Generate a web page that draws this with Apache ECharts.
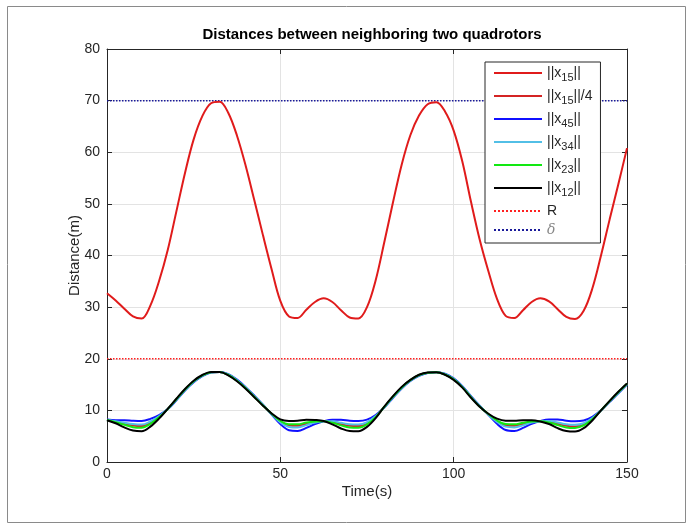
<!DOCTYPE html>
<html>
<head>
<meta charset="utf-8">
<script src="https://cdn.jsdelivr.net/npm/echarts@6/dist/echarts.min.js"></script>
<style>html,body{margin:0;padding:0;background:#fff;}#c{width:689px;height:527px;}</style>
</head>
<body>
<div id="c"></div>
<script>
// Time samples (s)
var time = [0,2.5,5,7.5,10,12.5,15,17.5,20,22.5,25,27.5,30,32.5,35,37.5,40,42.5,45,47.5,50,52.5,55,57.5,60,62.5,65,67.5,70,72.5,75,77.5,80,82.5,85,87.5,90,92.5,95,97.5,100,102.5,105,107.5,110,112.5,115,117.5,120,122.5,125,127.5,130,132.5,135,137.5,140,142.5,145,147.5,150];

// ||x15||
var x15 = [32.7,31.3,29.7,28.2,27.8,30.3,35.0,41.0,48.5,56.0,62.5,67.0,69.5,69.8,67.6,63.2,57.4,50.7,43.9,37.3,31.2,28.2,27.9,29.5,31.0,31.7,31.0,29.4,28.0,27.8,30.0,35.2,42.6,50.3,57.6,63.3,67.1,69.3,69.7,67.9,64.2,58.2,50.4,43.1,37.0,31.6,28.3,27.9,29.4,31.0,31.7,31.1,29.6,28.1,27.7,29.3,33.6,40.0,47.0,53.8,60.8];

// ||x15||/4
var x15q = [8.2,7.8,7.4,7.05,6.95,7.6,8.75,10.25,12.1,14.0,15.6,16.75,17.4,17.45,16.9,15.8,14.35,12.7,11.0,9.3,7.8,7.05,7.0,7.4,7.75,7.9,7.75,7.35,7.0,6.95,7.5,8.8,10.65,12.6,14.4,15.8,16.8,17.3,17.4,17.0,16.05,14.55,12.6,10.8,9.25,7.9,7.1,7.0,7.35,7.75,7.9,7.8,7.4,7.0,6.9,7.3,8.4,10.0,11.75,13.45,15.1];

// ||x45||
var x45 = [8.25,8.1,8.1,8.0,7.95,8.35,9.1,10.2,11.95,13.85,15.45,16.65,17.35,17.45,17.0,15.95,14.5,12.85,11.1,9.2,7.35,6.15,6.0,6.6,7.35,7.9,8.2,8.2,8.0,7.95,8.2,9.1,10.55,12.45,14.25,15.7,16.7,17.25,17.4,17.1,16.2,14.7,12.75,10.9,9.15,7.4,6.2,6.0,6.6,7.4,7.95,8.25,8.25,8.0,7.9,8.05,8.75,10.0,11.65,13.3,15.0];

// ||x34||
var x34 = [8.2,7.9,7.6,7.35,7.25,7.85,8.85,10.25,12.05,13.95,15.55,16.7,17.4,17.45,16.95,15.85,14.4,12.75,11.05,9.25,7.65,6.8,6.7,7.15,7.65,7.9,7.9,7.6,7.3,7.25,7.7,8.9,10.6,12.55,14.35,15.75,16.75,17.3,17.4,17.05,16.1,14.6,12.65,10.85,9.2,7.75,6.85,6.7,7.1,7.65,7.9,7.95,7.65,7.3,7.2,7.5,8.5,10.0,11.7,13.4,15.05];

// ||x23||
var x23 = [8.15,7.7,7.2,6.75,6.65,7.4,8.65,10.25,12.15,14.05,15.65,16.8,17.4,17.45,16.85,15.75,14.3,12.65,10.95,9.35,7.95,7.3,7.3,7.65,7.85,7.9,7.6,7.1,6.7,6.65,7.3,8.7,10.7,12.65,14.45,15.85,16.85,17.3,17.4,16.95,16.0,14.5,12.55,10.75,9.3,8.05,7.35,7.3,7.6,7.85,7.9,7.65,7.15,6.7,6.6,7.1,8.3,10.0,11.8,13.5,15.15];

// ||x12||
var x12 = [8.1,7.5,6.7,6.1,5.95,6.85,8.4,10.3,12.25,14.15,15.75,16.85,17.45,17.45,16.8,15.65,14.2,12.55,10.9,9.4,8.25,7.95,8.0,8.2,8.15,7.95,7.3,6.5,6.0,5.95,6.8,8.5,10.75,12.75,14.55,15.9,16.9,17.35,17.4,16.9,15.9,14.4,12.45,10.7,9.35,8.4,8.0,8.0,8.1,8.1,7.85,7.35,6.55,6.0,5.9,6.55,8.05,10.0,11.85,13.6,15.2];

// Reference levels
var R = 20;
var delta = 70;
var tRange = [0, 150];

var xTicks = [0, 50, 100, 150];
var yTicks = [0, 10, 20, 30, 40, 50, 60, 70, 80];

function zip(v){ return time.map(function(t,i){ return [t, v[i]]; }); }
function flat(v){ return tRange.map(function(t){ return [t, v]; }); }

var labels = {
  'x15': '||x{s|15}||',
  'x15q': '||x{s|15}||/4',
  'x45': '||x{s|45}||',
  'x34': '||x{s|34}||',
  'x23': '||x{s|23}||',
  'x12': '||x{s|12}||',
  'R': 'R',
  'delta': '{d|δ}'
};

var FONT = 'Liberation Sans, Arial, Helvetica, sans-serif';
var AX = '#262626';

function lineSeries(name, data, color, width, type, z){
  return {
    name: name, type: 'line', data: data, symbol: 'none', showSymbol: false,
    smooth: type === 'solid' ? 0.35 : false,
    xAxisIndex: 0, yAxisIndex: 0, z: z,
    lineStyle: { color: color, width: width, type: type },
    itemStyle: { color: color },
    emphasis: { disabled: true }, animation: false
  };
}

var chart = echarts.init(document.getElementById('c'), null, { renderer: 'canvas' });
chart.setOption({
  backgroundColor: '#ffffff',
  animation: false,
  title: {
    text: 'Distances between neighboring two quadrotors',
    left: 367, top: 22, textAlign: 'center',
    textStyle: { fontFamily: FONT, fontSize: 15, fontWeight: 'bold', color: '#000' }
  },
  graphic: [{
    type: 'rect', left: 5, top: 4, shape: { width: 678, height: 516 },
    style: { fill: 'none', stroke: '#8a8a8a', lineWidth: 1 }, silent: true, z: -10
  }],
  grid: { left: 107, right: 62, top: 49, bottom: 65, containLabel: false },
  legend: {
    orient: 'vertical', left: 485, top: 62,
    backgroundColor: '#fff', borderColor: '#262626', borderWidth: 1,
    padding: [0, 8, 6, 8], itemGap: 1, itemWidth: 48, itemHeight: 12,
    itemStyle: { opacity: 0 },
    data: ['x15','x15q','x45','x34','x23','x12',
      { name: 'R', textStyle: { lineHeight: 22 } },
      { name: 'delta', textStyle: { lineHeight: 12 } }],
    formatter: function(n){ return labels[n]; },
    textStyle: {
      fontFamily: FONT, fontSize: 14, color: AX, lineHeight: 22,
      rich: {
        s: { fontFamily: FONT, fontSize: 11, color: AX, lineHeight: 22, padding: [9, 0, 0, 0] },
        d: { fontFamily: 'DejaVu Serif, serif', fontStyle: 'italic', fontSize: 14, color: '#888', lineHeight: 12 }
      }
    }
  },
  xAxis: [{
    type: 'value', min: 0, max: 150, interval: 50,
    name: 'Time(s)', nameLocation: 'middle', nameGap: 22, nameMoveOverlap: false,
    nameTextStyle: { fontFamily: FONT, fontSize: 15, color: AX },
    axisLine: { show: true, onZero: false, lineStyle: { color: AX, width: 1 } },
    axisTick: { show: true, inside: true, length: 5, lineStyle: { color: AX } },
    axisLabel: { fontFamily: FONT, fontSize: 14, color: AX, margin: 5 },
    splitLine: { show: true, lineStyle: { color: '#e3e3e3', width: 1 } }
  }, {
    type: 'value', min: 0, max: 150, interval: 50, position: 'top',
    axisLine: { show: true, onZero: false, lineStyle: { color: AX, width: 1 } },
    axisTick: { show: true, inside: true, length: 5, lineStyle: { color: AX } },
    axisLabel: { show: false }, splitLine: { show: false }
  }],
  yAxis: [{
    type: 'value', min: 0, max: 80, interval: 10,
    name: 'Distance(m)', nameLocation: 'middle', nameGap: 25, nameMoveOverlap: false,
    nameTextStyle: { fontFamily: FONT, fontSize: 15, color: AX },
    axisLine: { show: true, onZero: false, lineStyle: { color: AX, width: 1 } },
    axisTick: { show: true, inside: true, length: 5, lineStyle: { color: AX } },
    axisLabel: { fontFamily: FONT, fontSize: 14, color: AX, margin: 7 },
    splitLine: { show: true, lineStyle: { color: '#e3e3e3', width: 1 } }
  }, {
    type: 'value', min: 0, max: 80, interval: 10, position: 'right',
    axisLine: { show: true, onZero: false, lineStyle: { color: AX, width: 1 } },
    axisTick: { show: true, inside: true, length: 5, lineStyle: { color: AX } },
    axisLabel: { show: false }, splitLine: { show: false }
  }],
  series: [
    lineSeries('x15', zip(x15), '#e01b1b', 2, 'solid', 3),
    lineSeries('x15q', zip(x15q), '#d42424', 2, 'solid', 3),
    lineSeries('x45', zip(x45), '#1010ff', 2, 'solid', 3),
    lineSeries('x34', zip(x34), '#52bfe6', 2, 'solid', 3),
    lineSeries('x23', zip(x23), '#12e812', 2, 'solid', 3),
    lineSeries('x12', zip(x12), '#000000', 2, 'solid', 3),
    lineSeries('R', flat(R), '#ff2020', 1.5, 'dotted', 2),
    lineSeries('delta', flat(delta), '#1a1a9a', 1.5, 'dotted', 2)
  ]
});
</script>
</body>
</html>
